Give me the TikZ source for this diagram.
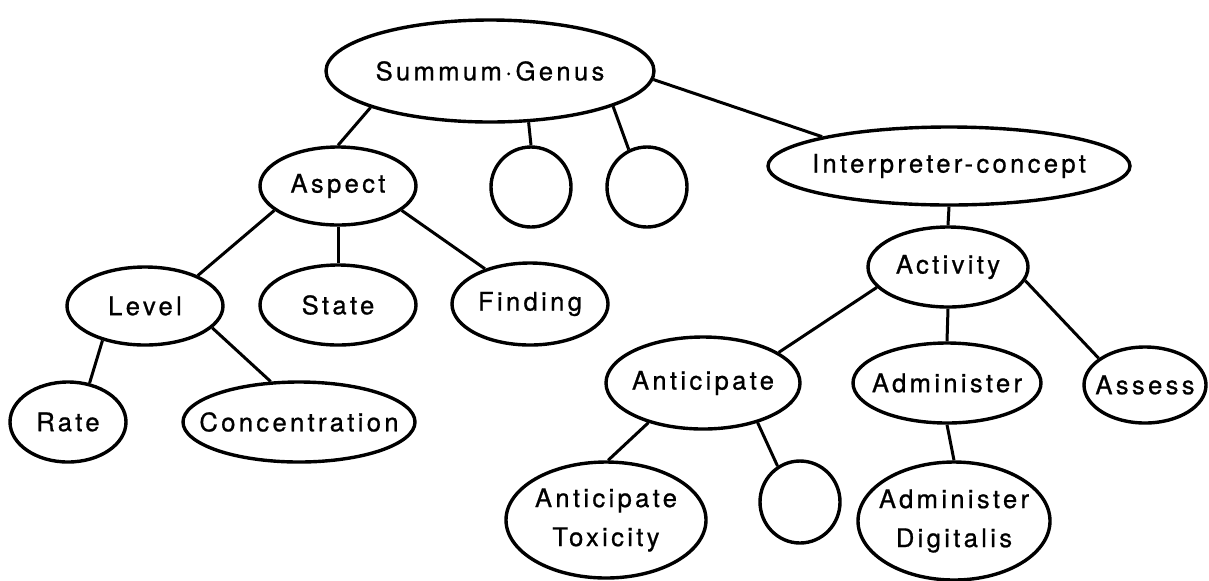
\documentclass[tikz,border=0pt]{standalone}
\usepackage{fontspec}
\setmainfont{TeX Gyre Heros}[LetterSpace=13,FakeBold=0.8]
\usetikzlibrary{shapes.geometric}
\begin{document}
\begin{tikzpicture}[x=0.5pt,y=-0.5pt,
  ov/.style={draw,ellipse,line width=1.7pt,inner sep=0pt},
  ln/.style={line width=1.5pt},
  every label/.style={font=\fontsize{12.8}{19.5}\selectfont,align=center,inner sep=0pt}]
\fill[white] (0,0) rectangle (1209,580);
\useasboundingbox (0,0) rectangle (1209,580);
% nodes
\node[ov,minimum width=164pt,minimum height=51pt,label={center:Summum·Genus}] (sg) at (490,71) {};
\node[ov,minimum width=78pt,minimum height=39pt,label={center:Aspect}] (asp) at (338,186) {};
\node[ov,minimum width=40pt,minimum height=40pt] (c1) at (531,187) {};
\node[ov,minimum width=40pt,minimum height=40pt] (c2) at (647,187) {};
\node[ov,minimum width=181pt,minimum height=39pt,label={center:Interpreter-concept}] (ic) at (949,166) {};
\node[ov,minimum width=80pt,minimum height=40pt,label={center:Activity}] (act) at (948,267) {};
\node[ov,minimum width=78pt,minimum height=39pt,label={center:Level}] (lev) at (145,306) {};
\node[ov,minimum width=78pt,minimum height=40pt,label={center:State}] (sta) at (338,305) {};
\node[ov,minimum width=78pt,minimum height=41pt,label={center:Finding}] (fin) at (530,304) {};
\node[ov,minimum width=58pt,minimum height=40pt,label={center:Rate}] (rate) at (68,422) {};
\node[ov,minimum width=116pt,minimum height=40pt,label={center:Concentration}] (conc) at (299,422) {};
\node[ov,minimum width=97pt,minimum height=46pt,label={center:Anticipate}] (ant) at (703,383) {};
\node[ov,minimum width=94pt,minimum height=40pt,label={center:Administer}] (adm) at (947,383) {};
\node[ov,minimum width=61pt,minimum height=38pt,label={center:Assess}] (ass) at (1145,385) {};
\node[ov,minimum width=100pt,minimum height=58pt,label={center:Anticipate\\Toxicity}] (tox) at (606,520) {};
\node[ov,minimum width=40pt,minimum height=41pt] (c3) at (800,502) {};
\node[ov,minimum width=96pt,minimum height=59pt,label={center:Administer\\Digitalis}] (dig) at (954,521) {};
% connectors
\draw[ln] (sg.197) -- (asp.north);
\draw[ln] (sg.307) -- (c1.north);
\draw[ln] (sg.344) -- (c2.116);
\draw[ln] (sg.357) -- (ic.167);
\draw[ln] (asp.201) -- (lev.30);
\draw[ln] (asp.south) -- (sta.north);
\draw[ln] (asp.339) -- (fin.142);
\draw[ln] (lev.219) -- (rate.61);
\draw[ln] (lev.342) -- (conc.125);
\draw[ln] (ic.south) -- (act.north);
\draw[ln] (act.196) -- (ant.22);
\draw[ln] (act.south) -- (adm.north);
\draw[ln] (act.350) -- (ass.150);
\draw[ln] (ant.216) -- (tox.88);
\draw[ln] (ant.324) -- (c3.122);
\draw[ln] (adm.south) -- (dig.north);
\end{tikzpicture}
\end{document}
